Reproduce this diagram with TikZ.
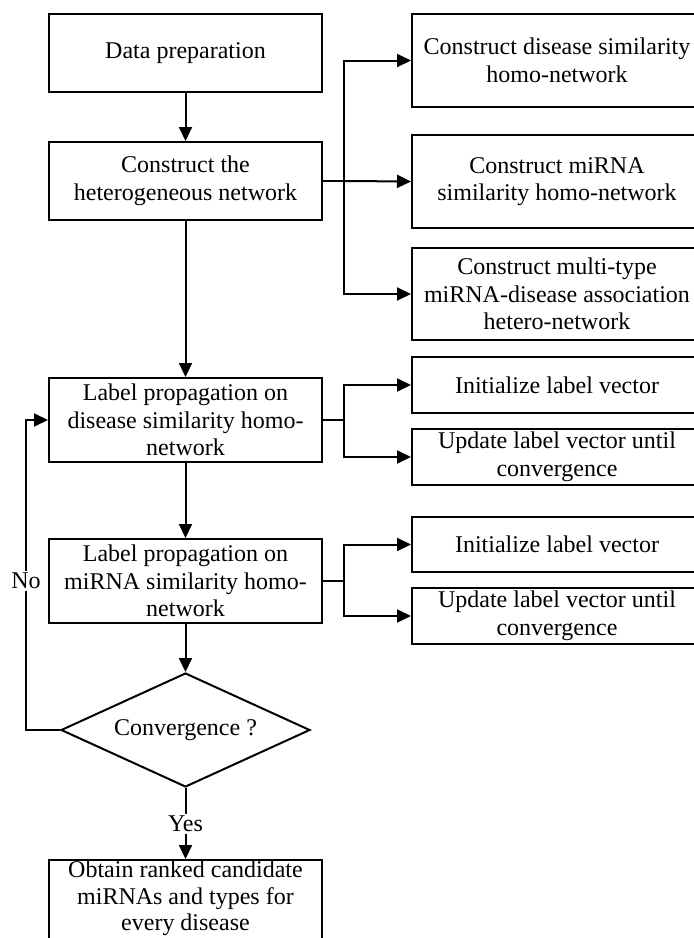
\documentclass[tikz,border=0pt]{standalone}
\usepackage{fontspec}
\setmainfont{Liberation Serif}
\usetikzlibrary{shapes.geometric,arrows.meta}
\begin{document}
\begin{tikzpicture}[x=1pt,y=-1pt,
  font=\fontsize{24}{27.5}\selectfont,
  box/.style={draw,line width=2pt,align=center,inner sep=0pt,minimum width=273pt},
  rbox/.style={draw,line width=2pt,align=center,inner sep=0pt,minimum width=290pt},
  arr/.style={line width=2pt,-{Triangle[length=14pt,width=13pt]}},
  ln/.style={line width=2pt},
  lbl/.style={fill=white,inner sep=2pt}]
\useasboundingbox (0,0) rectangle (694,938);
\clip (0,0) rectangle (694,938);
% left column
\node[box,minimum height=78pt] (dp) at (185.5,53) {Data preparation};
\node[box,minimum height=78pt] (het) at (185.5,181) {Construct the\\heterogeneous network};
\node[box,minimum height=84pt] (lp1) at (185.5,420) {Label propagation on\\disease similarity homo-\\network};
\node[box,minimum height=84pt] (lp2) at (185.5,581) {Label propagation on\\miRNA similarity homo-\\network};
\node[draw,line width=2pt,diamond,shape aspect=2.18,inner sep=0pt,minimum width=249pt,minimum height=114pt] (conv) at (185.5,730) {Convergence ?};
\node[box,minimum height=84pt,font=\fontsize{24}{26.5}\selectfont] (fin) at (185.5,902) {Obtain ranked candidate\\miRNAs and types for\\every disease\rule[-12pt]{0pt}{1pt}};
% right column
\node[rbox,minimum height=93pt] (A) at (557,60.5) {Construct disease similarity\\homo-network};
\node[rbox,minimum height=93pt] (B) at (557,181.5) {Construct miRNA\\similarity homo-network};
\node[rbox,minimum height=92pt] (C) at (557,294) {Construct multi-type\\miRNA-disease association\\hetero-network};
\node[rbox,minimum height=56pt] (I1) at (557,385) {Initialize label vector};
\node[rbox,minimum height=56pt] (U1) at (557,457) {Update label vector until\\convergence};
\node[rbox,minimum height=55pt] (I2) at (557,544.5) {Initialize label vector};
\node[rbox,minimum height=56pt] (U2) at (557,616) {Update label vector until\\convergence};
% branch points
\coordinate (b1) at (344,181);
\coordinate (b2) at (344,420);
\coordinate (b3) at (344,581);
\coordinate (fb) at (26,730);
% connectors
\draw[arr] (dp) -- (het);
\draw[ln] (het.east) -- (b1);
\draw[arr] (b1) |- (A.west);
\draw[arr] (b1) -- (B.west);
\draw[arr] (b1) |- (C.west);
\draw[arr] (het) -- (lp1);
\draw[ln] (lp1.east) -- (b2);
\draw[arr] (b2) |- (I1.west);
\draw[arr] (b2) |- (U1.west);
\draw[arr] (lp1) -- (lp2);
\draw[ln] (lp2.east) -- (b3);
\draw[arr] (b3) |- (I2.west);
\draw[arr] (b3) |- (U2.west);
\draw[arr] (lp2) -- (conv);
\draw[arr] (conv.west) -- (fb) |- (lp1.west);
\node[lbl] (no) at (26,581) {No};
\draw[arr] (conv) -- (fin);
\node[lbl] (yes) at (185.5,824) {Yes};
\end{tikzpicture}
\end{document}
